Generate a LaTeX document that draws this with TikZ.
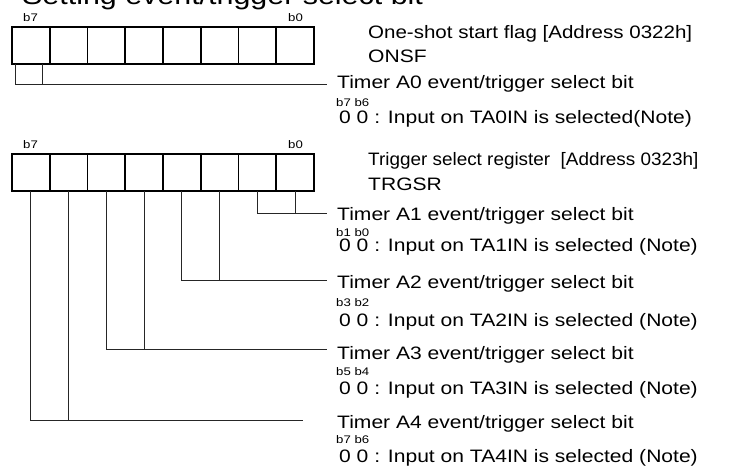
\documentclass[tikz,border=0pt]{standalone}
\usepackage{fontspec}
\setmainfont{Liberation Sans}
\newfontfamily\lblfont{Liberation Sans}[FakeStretch=1.17]
\newfontfamily\lblfontb{Liberation Sans}[FakeStretch=1.14]
\newfontfamily\lblfontc{Liberation Sans}[FakeStretch=1.05]
\newfontfamily\smlfont{Liberation Sans}[FakeStretch=1.2]
\begin{document}
\begin{tikzpicture}[x=1pt,y=-1pt,
  cell/.style={draw,line width=1.6pt,minimum width=37.75pt,minimum height=37pt,inner sep=0pt,outer sep=0pt},
  txt/.style={anchor=base west,inner sep=0pt,font=\lblfont\fontsize{18}{20}\selectfont},
  sml/.style={anchor=base west,inner sep=0pt,font=\smlfont\fontsize{11}{13}\selectfont},
  title/.style={anchor=base west,inner sep=0pt,font=\lblfont\fontsize{26}{28}\selectfont},
  lead/.style={draw,line width=0.8pt,black!85}]
\useasboundingbox (0,0) rectangle (744,468);
% title (partly cut at top)
\node[title] (ttl) at (22,5) {Setting event/trigger select bit};
% registers
\foreach \i/\b in {0/7,1/6,2/5,3/4,4/3,5/2,6/1,7/0}{
  \node[cell] (r1b\b) at ({12+37.75*(\i+0.5)},45.5) {};
  \node[cell] (r2b\b) at ({12+37.75*(\i+0.5)},172.25) {};
}
\node[sml] (r1h7) at (23,21.5) {b7};
\node[sml] (r1h0) at (288,21.5) {b0};
\node[sml] (r2h7) at (23,148.5) {b7};
\node[sml] (r2h0) at (288,148.5) {b0};
% register 1 texts
\node[txt,font=\lblfontb\fontsize{18}{20}\selectfont] (n1a) at (368,39) {One-shot start flag [Address 0322h]};
\node[txt] (n1b) at (368,63) {ONSF};
\node[txt] (t0) at (337,89) {Timer A0 event/trigger select bit};
\node[sml] (s0) at (336,106.5) {b7 b6};
\node[txt] (v0) at (339,124) {0 0 : Input on TA0IN is selected(Note)};
% register 2 texts
\node[txt,font=\lblfontc\fontsize{18}{20}\selectfont] (n2a) at (368,165) {Trigger select register\ \ [Address 0323h]};
\node[txt] (n2b) at (368,190) {TRGSR};
\node[txt] (t1) at (337,220) {Timer A1 event/trigger select bit};
\node[sml] (s1) at (336,236) {b1 b0};
\node[txt] (v1) at (339,251.5) {0 0 : Input on TA1IN is selected (Note)};
\node[txt] (t2) at (337,288) {Timer A2 event/trigger select bit};
\node[sml] (s2) at (336,306.5) {b3 b2};
\node[txt] (v2) at (339,326.5) {0 0 : Input on TA2IN is selected (Note)};
\node[txt] (t3) at (337,359) {Timer A3 event/trigger select bit};
\node[sml] (s3) at (336,375.5) {b5 b4};
\node[txt] (v3) at (339,394.5) {0 0 : Input on TA3IN is selected (Note)};
\node[txt] (t4) at (337,428) {Timer A4 event/trigger select bit};
\node[sml] (s4) at (336,443) {b7 b6};
\node[txt] (v4) at (339,462.5) {0 0 : Input on TA4IN is selected (Note)};
% leader coordinates
\coordinate (a0l) at (15,64);
\coordinate (a0r) at (42,64);
\coordinate (e0) at (327,84);
\coordinate (e1) at (327,213);
\coordinate (e2) at (327,280.7);
\coordinate (e3) at (327,349.3);
\coordinate (e4) at (303,420);
% leaders register 1
\draw[lead] (a0l) |- (e0);
\draw[lead] (a0r) -- (a0r |- e0);
% leaders register 2
\draw[lead] (r2b1.south) |- (e1);
\draw[lead] (r2b0.south) -- (r2b0.south |- e1);
\draw[lead] (r2b3.south) |- (e2);
\draw[lead] (r2b2.south) -- (r2b2.south |- e2);
\draw[lead] (r2b5.south) |- (e3);
\draw[lead] (r2b4.south) -- (r2b4.south |- e3);
\draw[lead] (r2b7.south) |- (e4);
\draw[lead] (r2b6.south) -- (r2b6.south |- e4);
\end{tikzpicture}
\end{document}
